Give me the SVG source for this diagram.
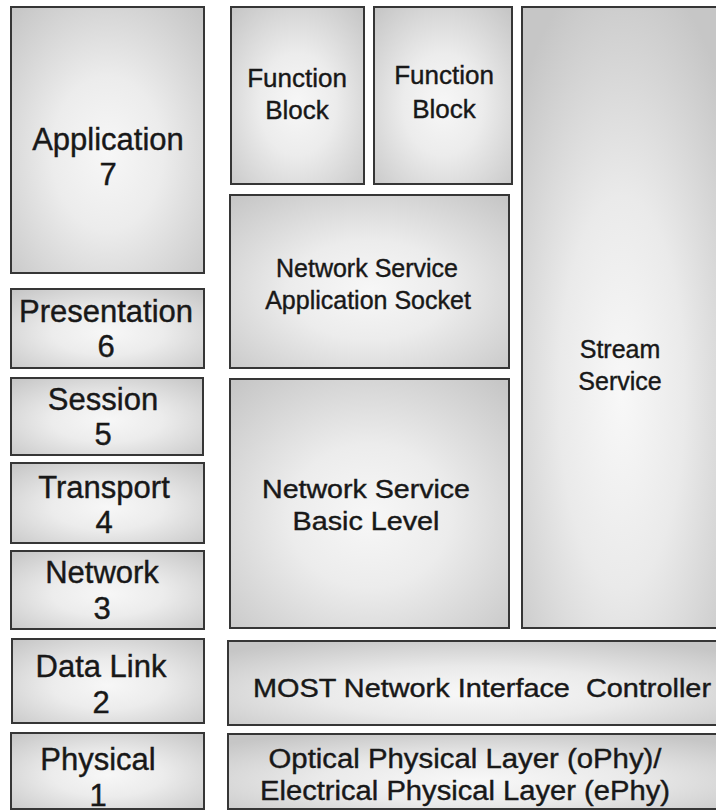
<svg xmlns="http://www.w3.org/2000/svg" width="716" height="812" viewBox="0 0 716 812">
  <defs>
    <!-- soft shaded fill: light in the middle, grey towards the edges -->
    <radialGradient id="shade" cx="0.5" cy="0.55" r="0.72">
      <stop offset="0" stop-color="#f7f7f7"/>
      <stop offset="0.4" stop-color="#ececec"/>
      <stop offset="1" stop-color="#c6c6c6"/>
    </radialGradient>
    <radialGradient id="shadeWide" cx="0.5" cy="0.62" r="0.7">
      <stop offset="0" stop-color="#f8f8f8"/>
      <stop offset="0.45" stop-color="#eaeaea"/>
      <stop offset="1" stop-color="#c6c6c6"/>
    </radialGradient>
  </defs>
  <style>
    .box { fill: url(#shade); stroke: #363636; stroke-width: 2; }
    .wide { fill: url(#shadeWide); stroke: #363636; stroke-width: 2; }
    text { font-family: "Liberation Sans", Arial, sans-serif; fill: #181818; stroke: #181818; stroke-width: 0.4; text-anchor: middle; }
    .osi { font-size: 31px; }
    .fb { font-size: 26px; }
    .ns { font-size: 25px; }
  </style>
  <rect width="716" height="812" fill="#ffffff"/>

  <!-- OSI reference column -->
  <g id="osi-application">
    <rect class="box" x="11" y="7" width="193" height="266"/>
    <text class="osi" x="108" y="150">Application</text>
    <text class="osi" x="108" y="185">7</text>
  </g>
  <g id="osi-presentation">
    <rect class="box" x="11" y="289" width="193" height="79"/>
    <text class="osi" x="106" y="322">Presentation</text>
    <text class="osi" x="106" y="357">6</text>
  </g>
  <g id="osi-session">
    <rect class="box" x="11" y="378" width="192" height="77"/>
    <text class="osi" x="103" y="410">Session</text>
    <text class="osi" x="103" y="445">5</text>
  </g>
  <g id="osi-transport">
    <rect class="box" x="11" y="463" width="193" height="80"/>
    <text class="osi" x="104" y="498">Transport</text>
    <text class="osi" x="104" y="533">4</text>
  </g>
  <g id="osi-network">
    <rect class="box" x="11" y="551" width="193" height="78"/>
    <text class="osi" x="102" y="583">Network</text>
    <text class="osi" x="102" y="619">3</text>
  </g>
  <g id="osi-datalink">
    <rect class="box" x="12" y="639" width="192" height="84"/>
    <text class="osi" x="101" y="677">Data Link</text>
    <text class="osi" x="101" y="713">2</text>
  </g>
  <g id="osi-physical">
    <rect class="box" x="11" y="733" width="193" height="76"/>
    <text class="osi" x="98" y="770">Physical</text>
    <text class="osi" x="98" y="806">1</text>
  </g>

  <!-- MOST stack -->
  <g id="function-block-1">
    <rect class="box" x="231" y="7" width="133" height="177"/>
    <text class="fb" x="297" y="87">Function</text>
    <text class="fb" x="297" y="119">Block</text>
  </g>
  <g id="function-block-2">
    <rect class="box" x="374" y="7" width="138" height="177"/>
    <text class="fb" x="444" y="84">Function</text>
    <text class="fb" x="444" y="118">Block</text>
  </g>
  <g id="ns-application-socket">
    <rect class="box" x="230" y="195" width="279" height="173"/>
    <text class="ns" x="367" y="277">Network Service</text>
    <text class="ns" x="368" y="309">Application Socket</text>
  </g>
  <g id="ns-basic-level">
    <rect class="box" x="230" y="379" width="279" height="249"/>
    <text class="ns" x="366" y="498" font-size="26" textLength="208" lengthAdjust="spacingAndGlyphs">Network Service</text>
    <text class="ns" x="366" y="530" font-size="26" textLength="147" lengthAdjust="spacingAndGlyphs">Basic Level</text>
  </g>
  <g id="stream-service">
    <rect class="wide" x="522" y="7" width="200" height="621"/>
    <text class="ns" x="620" y="358">Stream</text>
    <text class="ns" x="620" y="390">Service</text>
  </g>
  <g id="most-nic">
    <rect class="wide" x="228" y="641" width="494" height="84"/>
    <text x="482" y="697" font-size="25" textLength="458" lengthAdjust="spacingAndGlyphs" xml:space="preserve">MOST Network Interface  Controller</text>
  </g>
  <g id="physical-layer">
    <rect class="wide" x="228" y="734" width="494" height="75"/>
    <text x="465" y="768" font-size="27" textLength="393" lengthAdjust="spacingAndGlyphs">Optical Physical Layer (oPhy)/</text>
    <text x="465" y="800" font-size="27" textLength="410" lengthAdjust="spacingAndGlyphs">Electrical Physical Layer (ePhy)</text>
  </g>

  <!-- the layers are stacked by position only; there are no connectors -->
  <g id="connectors"/>
</svg>
